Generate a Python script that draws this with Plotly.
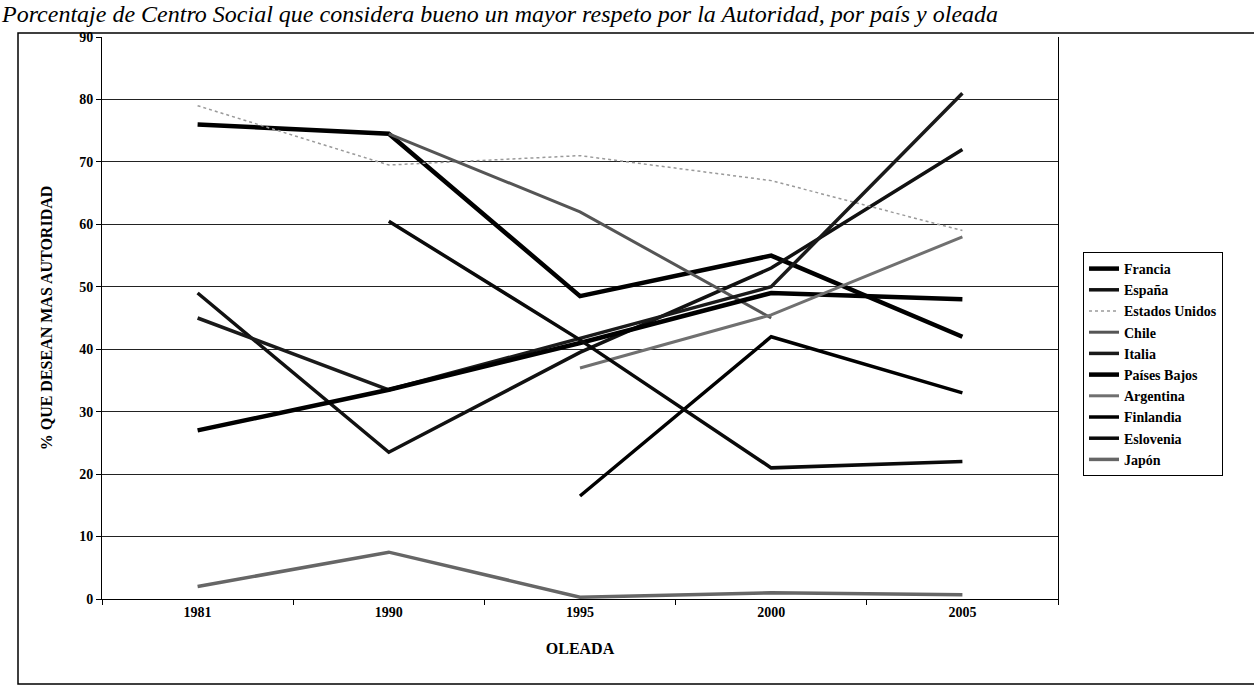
import plotly.graph_objects as go

waves = ["1981", "1990", "1995", "2000", "2005"]

francia = [76, 74.5, 48.5, 55, 42]
espana = [49, 23.5, 39.5, 53, 72]
estados_unidos = [79, 69.5, 71, 67, 59]
chile = [None, 74.5, 62, 45, None]
italia = [45, 33.5, None, 50, 81]
paises_bajos = [27, 33.5, 41, 49, 48]
argentina = [None, None, 37, 45.5, 58]
finlandia = [None, None, 16.5, 42, 33]
eslovenia = [None, 60.5, 41.5, 21, 22]
japon = [2, 7.5, 0.3, 1, 0.7]

series = [
    ("Francia", francia, "#000000", 4.5, "solid"),
    ("España", espana, "#111111", 3.5, "solid"),
    ("Estados Unidos", estados_unidos, "#9a9a9a", 1.5, "dot"),
    ("Chile", chile, "#555555", 3, "solid"),
    ("Italia", italia, "#1a1a1a", 3.5, "solid"),
    ("Países Bajos", paises_bajos, "#000000", 4.5, "solid"),
    ("Argentina", argentina, "#707070", 3, "solid"),
    ("Finlandia", finlandia, "#000000", 3.5, "solid"),
    ("Eslovenia", eslovenia, "#0a0a0a", 3.5, "solid"),
    ("Japón", japon, "#666666", 3.5, "solid"),
]

W, H = 1254, 687
L, R, T, B = 102, 196, 37, 88
pw, ph = W - L - R, H - T - B

def px(x):
    return (x - L) / pw

def py(y):
    return (H - B - y) / ph

fig = go.Figure()
for name, vals, color, width, dash in series:
    fig.add_trace(go.Scatter(
        x=waves, y=vals, mode="lines", name=name,
        connectgaps=True,
        line=dict(color=color, width=width, dash=dash),
    ))

serif = "Liberation Serif, Times New Roman, serif"

fig.update_layout(
    width=W, height=H,
    margin=dict(l=L, r=R, t=T, b=B, autoexpand=False),
    paper_bgcolor="white", plot_bgcolor="white",
    showlegend=True,
    legend=dict(
        x=px(1083), y=py(252), xanchor="left", yanchor="top",
        bordercolor="#000000", borderwidth=1,
        font=dict(family=serif, size=14, color="#000000", weight="bold"),
        itemwidth=30, tracegroupgap=0,
        bgcolor="white",
    ),
    xaxis=dict(
        type="category", range=[-0.5, 4.5],
        showgrid=False, showline=True, linecolor="#000000", linewidth=1,
        ticks="outside", tickson="boundaries", ticklen=5, tickcolor="#000000",
        tickfont=dict(family=serif, size=14, color="#000000", weight="bold"),
        title=dict(text="OLEADA", font=dict(family=serif, size=16, color="#000000", weight="bold"), standoff=24),
    ),
    yaxis=dict(
        range=[0, 90], dtick=10, tick0=0,
        showgrid=True, gridcolor="#222222", gridwidth=1,
        showline=True, linecolor="#000000", linewidth=1, mirror=True,
        ticks="outside", ticklen=5, tickcolor="#000000",
        zeroline=False,
        tickfont=dict(family=serif, size=14, color="#000000", weight="bold"),
        title=dict(text="% QUE DESEAN MAS AUTORIDAD", font=dict(family=serif, size=16, color="#000000", weight="bold"), standoff=22),
    ),
    shapes=[
        dict(type="rect", xref="paper", yref="paper",
             x0=px(18), x1=px(W + 10), y0=py(684), y1=py(33),
             line=dict(color="#000000", width=1.5), fillcolor="rgba(0,0,0,0)", layer="below"),
    ],
    annotations=[
        dict(text="Porcentaje de Centro Social que considera bueno un mayor respeto por la Autoridad, por país y oleada",
             xref="paper", yref="paper", x=px(0), y=py(0), xanchor="left", yanchor="top",
             showarrow=False, borderpad=0,
             font=dict(family=serif, size=24, color="#000000", style="italic")),
    ],
)

fig.write_html("out.html", config={"displayModeBar": False},
               post_script="document.body.style.margin='0';document.body.style.padding='0';")
